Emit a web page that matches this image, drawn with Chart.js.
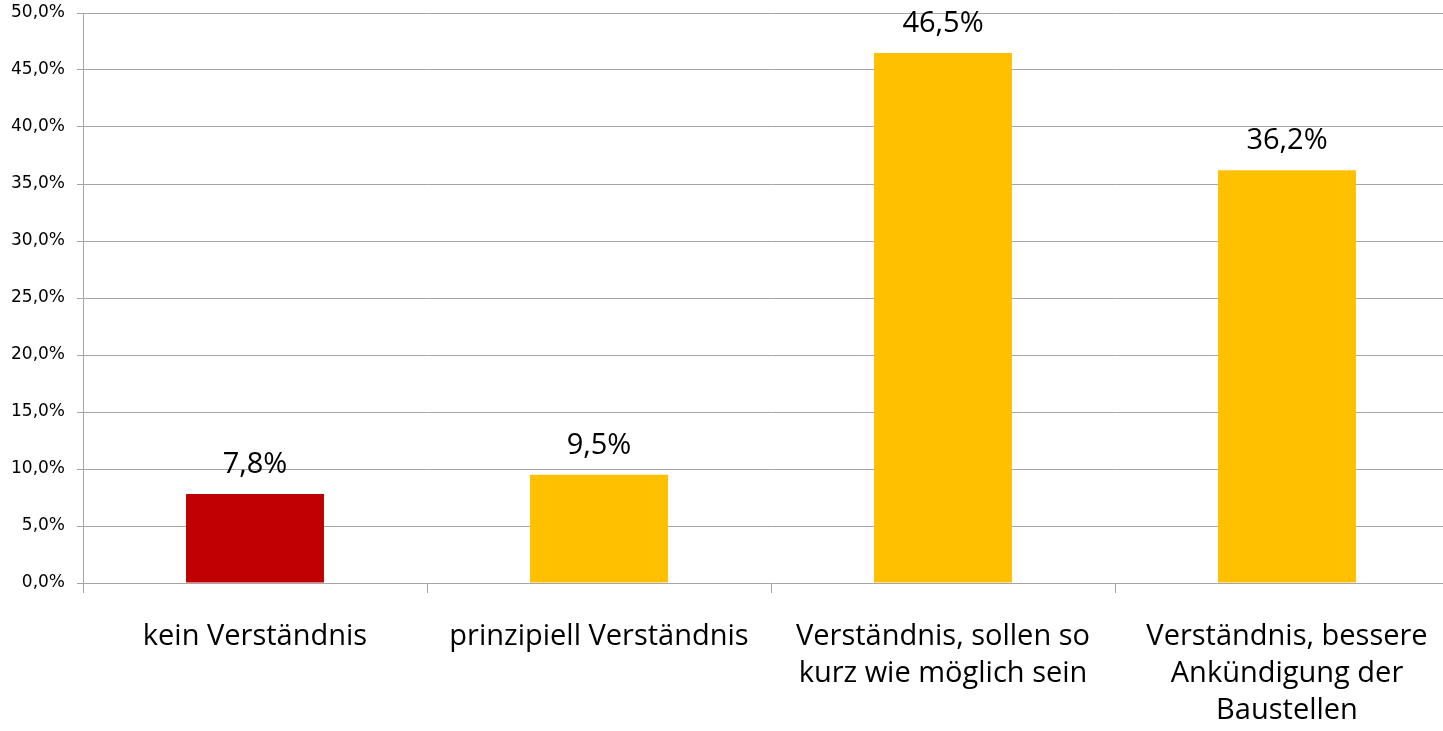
<!DOCTYPE html>
<html>
<head>
<meta charset="utf-8">
<script src="https://cdn.jsdelivr.net/npm/chart.js@4/dist/chart.umd.min.js"></script>
<style>
  html, body { margin: 0; padding: 0; background: #fff; overflow: hidden; }
  #wrap { width: 1470px; height: 731px; }
</style>
</head>
<body>
<div id="wrap"><canvas id="chart"></canvas></div>
<script>
// categories and values (percent)
const kategorien = [
  "kein Verständnis",
  "prinzipiell Verständnis",
  ["Verständnis, sollen so", "kurz wie möglich sein"],
  ["Verständnis, bessere", "Ankündigung der", "Baustellen"]
];
const werte = [7.8, 9.5, 46.5, 36.2];
const farben = ["#C00000", "#FFC000", "#FFC000", "#FFC000"];
const yMax = 50;
const yStep = 5;

const grau = "#a6a6a6";

function fmt(v, digits) {
  return v.toFixed(digits).replace(".", ",") + "%";
}

// value labels above bars
const wertLabels = {
  id: "wertLabels",
  afterDatasetsDraw(chart) {
    const ctx = chart.ctx;
    const meta = chart.getDatasetMeta(0);
    ctx.save();
    ctx.font = "29px 'Open Sans'";
    ctx.fillStyle = "#000";
    ctx.textAlign = "center";
    ctx.textBaseline = "alphabetic";
    meta.data.forEach((bar, i) => {
      ctx.fillText(fmt(werte[i], 1), bar.x, bar.y - 21);
    });
    ctx.restore();
  }
};

new Chart(document.getElementById("chart"), {
  type: "bar",
  data: {
    labels: kategorien,
    datasets: [{
      data: werte,
      backgroundColor: farben,
      categoryPercentage: 1,
      barPercentage: 0.401
    }]
  },
  options: {
    responsive: true,
    maintainAspectRatio: false,
    animation: false,
    layout: { padding: { top: 13, right: 11, left: 0, bottom: 0 } },
    plugins: {
      legend: { display: false },
      tooltip: { enabled: false }
    },
    scales: {
      x: {
        offset: true,
        grid: {
          offset: true,
          drawOnChartArea: false,
          drawTicks: true,
          tickLength: 10,
          color: grau
        },
        border: { color: grau },
        ticks: {
          color: "#000",
          font: { family: "'Open Sans'", size: 29, lineHeight: 1.28 },
          padding: 25,
          maxRotation: 0,
          autoSkip: false
        },
        afterFit(scale) { scale.height = 148; }
      },
      y: {
        min: 0,
        max: yMax,
        grid: {
          color: grau,
          tickLength: 6
        },
        border: { color: grau },
        ticks: {
          stepSize: yStep,
          color: "#000",
          font: { family: "'DejaVu Sans'", size: 17 },
          padding: 12,
          callback: v => fmt(v, 1)
        },
        afterFit(scale) {
          scale.width = 83;
          scale.paddingTop = 0;
          scale.paddingBottom = 0;
        }
      }
    }
  },
  plugins: [wertLabels]
});
</script>
</body>
</html>
